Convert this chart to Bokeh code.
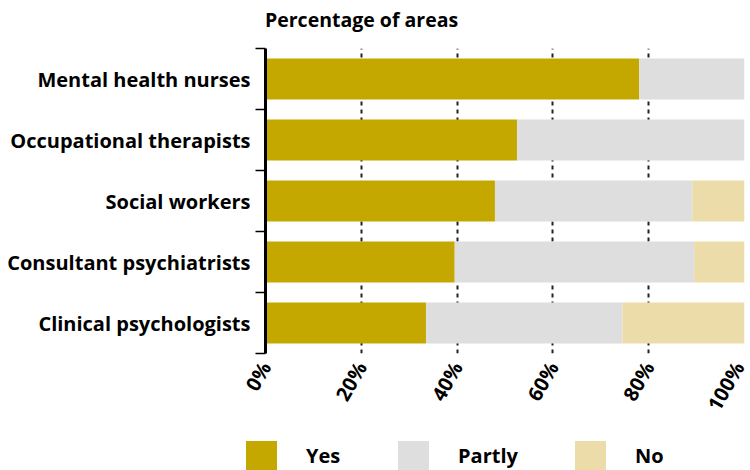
import math
from bokeh.plotting import figure
from bokeh.layouts import column
from bokeh.models import ColumnDataSource, Range1d, FixedTicker, Div
from bokeh.embed import file_html
from bokeh.resources import INLINE

categories = ["Clinical psychologists", "Consultant psychiatrists", "Social workers",
              "Occupational therapists", "Mental health nurses"]
yes_vals = [33.5, 39.5, 47.9, 52.5, 78.0]
partly_vals = [41.0, 50.0, 41.2, 47.5, 22.0]
no_vals = [25.5, 10.5, 10.9, 0.0, 0.0]
series_names = ["Yes", "Partly", "No"]
series_colors = ["#C4A800", "#DEDEDE", "#ECDCA9"]
x_ticks = [0, 20, 40, 60, 80, 100]
title_text = "Percentage of areas"

FONT = "Open Sans"

ypos = list(range(len(categories)))
yes_end = yes_vals
partly_end = [a + b for a, b in zip(yes_vals, partly_vals)]
no_end = [a + b for a, b in zip(partly_end, no_vals)]

src = ColumnDataSource(dict(y=ypos, z=[0] * len(ypos), yes=yes_end,
                            partly=partly_end, no=no_end))

# title strip (HTML)
title_div = Div(
    text=('<div style="padding-left:265px;padding-top:6px;height:34px;'
          "font-family:'Open Sans';font-weight:bold;font-size:19.5px;line-height:27px;"
          f'color:black;white-space:nowrap;">{title_text}</div>'),
    width=750, height=40, margin=0)

p = figure(width=750, height=397, output_backend="svg", toolbar_location=None,
           x_range=Range1d(0, 100), y_range=Range1d(-0.5, 4.5),
           min_border_left=265, min_border_right=6, min_border_top=8,
           min_border_bottom=84)
p.outline_line_color = None

p.hbar(y="y", left="z", right="yes", height=0.67, source=src,
       fill_color=series_colors[0], line_color=None)
p.hbar(y="y", left="yes", right="partly", height=0.67, source=src,
       fill_color=series_colors[1], line_color=None)
p.hbar(y="y", left="partly", right="no", height=0.67, source=src,
       fill_color=series_colors[2], line_color=None)

# x axis
p.xaxis.ticker = FixedTicker(ticks=x_ticks)
p.xaxis.major_label_overrides = {t: f"{t}%" for t in x_ticks}
p.xaxis.axis_line_color = None
p.xaxis.major_tick_line_color = None
p.xaxis.minor_tick_line_color = None
p.xaxis.major_label_orientation = math.pi / 3
p.xaxis.major_label_text_font = FONT
p.xaxis.major_label_text_font_size = "20px"
p.xaxis.major_label_text_font_style = "bold"
p.xaxis.major_label_text_color = "black"
p.xaxis.major_label_standoff = 4

p.xgrid.ticker = FixedTicker(ticks=x_ticks)
p.xgrid.grid_line_color = "#222222"
p.xgrid.grid_line_width = 2
p.xgrid.grid_line_dash = "4 4"
p.ygrid.grid_line_color = None

# y axis
p.yaxis.ticker = FixedTicker(ticks=ypos, minor_ticks=[i - 0.5 for i in range(len(ypos) + 1)])
p.yaxis.major_label_overrides = {i: c for i, c in enumerate(categories)}
p.yaxis.axis_line_color = "black"
p.yaxis.axis_line_width = 3
p.yaxis.major_tick_line_color = None
p.yaxis.major_tick_out = 0
p.yaxis.major_tick_in = 0
p.yaxis.minor_tick_line_color = "black"
p.yaxis.minor_tick_line_width = 1.5
p.yaxis.minor_tick_out = 10
p.yaxis.minor_tick_in = 0
p.yaxis.major_label_standoff = 5
p.yaxis.major_label_text_font = FONT
p.yaxis.major_label_text_font_size = "20px"
p.yaxis.major_label_text_font_style = "bold"
p.yaxis.major_label_text_color = "black"

# legend strip (HTML), built from the series names and colours
item_widths = [152, 177, 120]
parts = []
for name, col, w in zip(series_names, series_colors, item_widths):
    parts.append(
        f'<div style="display:flex;align-items:center;width:{w}px;height:29px;">'
        f'<div style="width:31px;height:29px;background:{col};flex:none;"></div>'
        f'<div style="margin-left:29px;line-height:22px;">{name}</div></div>')
legend_html = (
    '<div style="display:flex;padding-left:246px;padding-top:4px;height:29px;'
    "font-family:'Open Sans';font-weight:bold;font-size:20px;"
    'color:black;">' + "".join(parts) + '</div>')
lg = Div(text=legend_html, width=750, height=33, margin=0)

layout = column(title_div, p, lg, spacing=0)
open("out.html", "w").write(file_html(layout, INLINE))
